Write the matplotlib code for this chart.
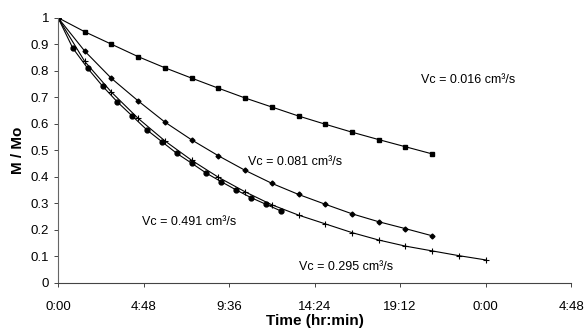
import matplotlib
matplotlib.use("Agg")
import matplotlib.pyplot as plt
from matplotlib.ticker import FuncFormatter, MultipleLocator

plt.rcParams["font.family"] = ["Liberation Sans", "DejaVu Sans"]

# time in hours
t_slow = [0, 1.5, 3, 4.5, 6, 7.5, 9, 10.5, 12, 13.5, 15, 16.5, 18, 19.5, 21]
m_016 = [1.0, 0.947, 0.900, 0.853, 0.811, 0.772, 0.734, 0.697, 0.663, 0.629,
         0.598, 0.568, 0.540, 0.513, 0.486]
m_081 = [1.0, 0.874, 0.771, 0.686, 0.606, 0.539, 0.479, 0.424, 0.375, 0.333,
         0.296, 0.260, 0.230, 0.204, 0.177]

t_295 = [0, 1.5, 3, 4.5, 6, 7.5, 9, 10.5, 12, 13.5, 15, 16.5, 18, 19.5, 21,
         22.5, 24]
m_295 = [1.0, 0.835, 0.719, 0.620, 0.535, 0.462, 0.398, 0.343, 0.294, 0.255,
         0.222, 0.189, 0.161, 0.138, 0.120, 0.102, 0.086]

t_491 = [0, 0.833, 1.667, 2.5, 3.333, 4.167, 5.0, 5.833, 6.667, 7.5, 8.333,
         9.167, 10.0, 10.833, 11.667, 12.5]
m_491 = [1.0, 0.885, 0.809, 0.742, 0.682, 0.629, 0.576, 0.532, 0.488, 0.451,
         0.413, 0.381, 0.350, 0.321, 0.296, 0.271]

labels = ["Vc = 0.016 cm³/s", "Vc = 0.081 cm³/s",
          "Vc = 0.491 cm³/s", "Vc = 0.295 cm³/s"]


def hrmin(x, pos):
    mins = int(round(x * 60)) % (24 * 60)
    return f"{mins // 60}:{mins % 60:02d}"


def ylab(v, pos):
    if abs(v - round(v)) < 1e-9:
        return f"{int(round(v))}"
    return f"{v:.1f}"


fig = plt.figure(figsize=(5.84, 3.34), dpi=100)
ax = fig.add_axes([0.0993, 0.1536, 0.8787, 0.7934])

lw = 0.8
ax.plot(t_slow, m_016, "k-", marker="s", markersize=3.5, linewidth=lw)
ax.plot(t_slow, m_081, "k-", marker="D", markersize=2.5, linewidth=lw)
ax.plot(t_295, m_295, "k-", marker="+", markersize=4.5, markeredgewidth=0.8, linewidth=lw)
ax.plot(t_491, m_491, "k-", marker="o", markersize=3.5, linewidth=lw)

ax.text(20.4, 0.765, labels[0], fontsize=9, va="center", ha="left")
ax.text(10.65, 0.455, labels[1], fontsize=9, va="center", ha="left")
ax.text(4.7, 0.23, labels[2], fontsize=9, va="center", ha="left")
ax.text(13.5, 0.06, labels[3], fontsize=9, va="center", ha="left")

ax.set_xlim(0, 28.8)
ax.set_ylim(0, 1)
ax.xaxis.set_major_locator(MultipleLocator(4.8))
ax.xaxis.set_major_formatter(FuncFormatter(hrmin))
ax.yaxis.set_major_locator(MultipleLocator(0.1))
ax.yaxis.set_major_formatter(FuncFormatter(ylab))

ax.spines["top"].set_visible(False)
ax.spines["right"].set_visible(False)
ax.spines["left"].set_color("#666666")
ax.spines["bottom"].set_color("#444444")
ax.tick_params(axis="both", labelsize=9.5, direction="out", length=3, width=0.7, colors="#444444", labelcolor="black")
ax.tick_params(axis="x", pad=10)

ax.set_xlabel("Time (hr:min)", fontsize=11, fontweight="bold", labelpad=1)
ax.set_ylabel("M / Mo", fontsize=11, fontweight="bold", labelpad=4)

fig.savefig("out.png", dpi=100)
